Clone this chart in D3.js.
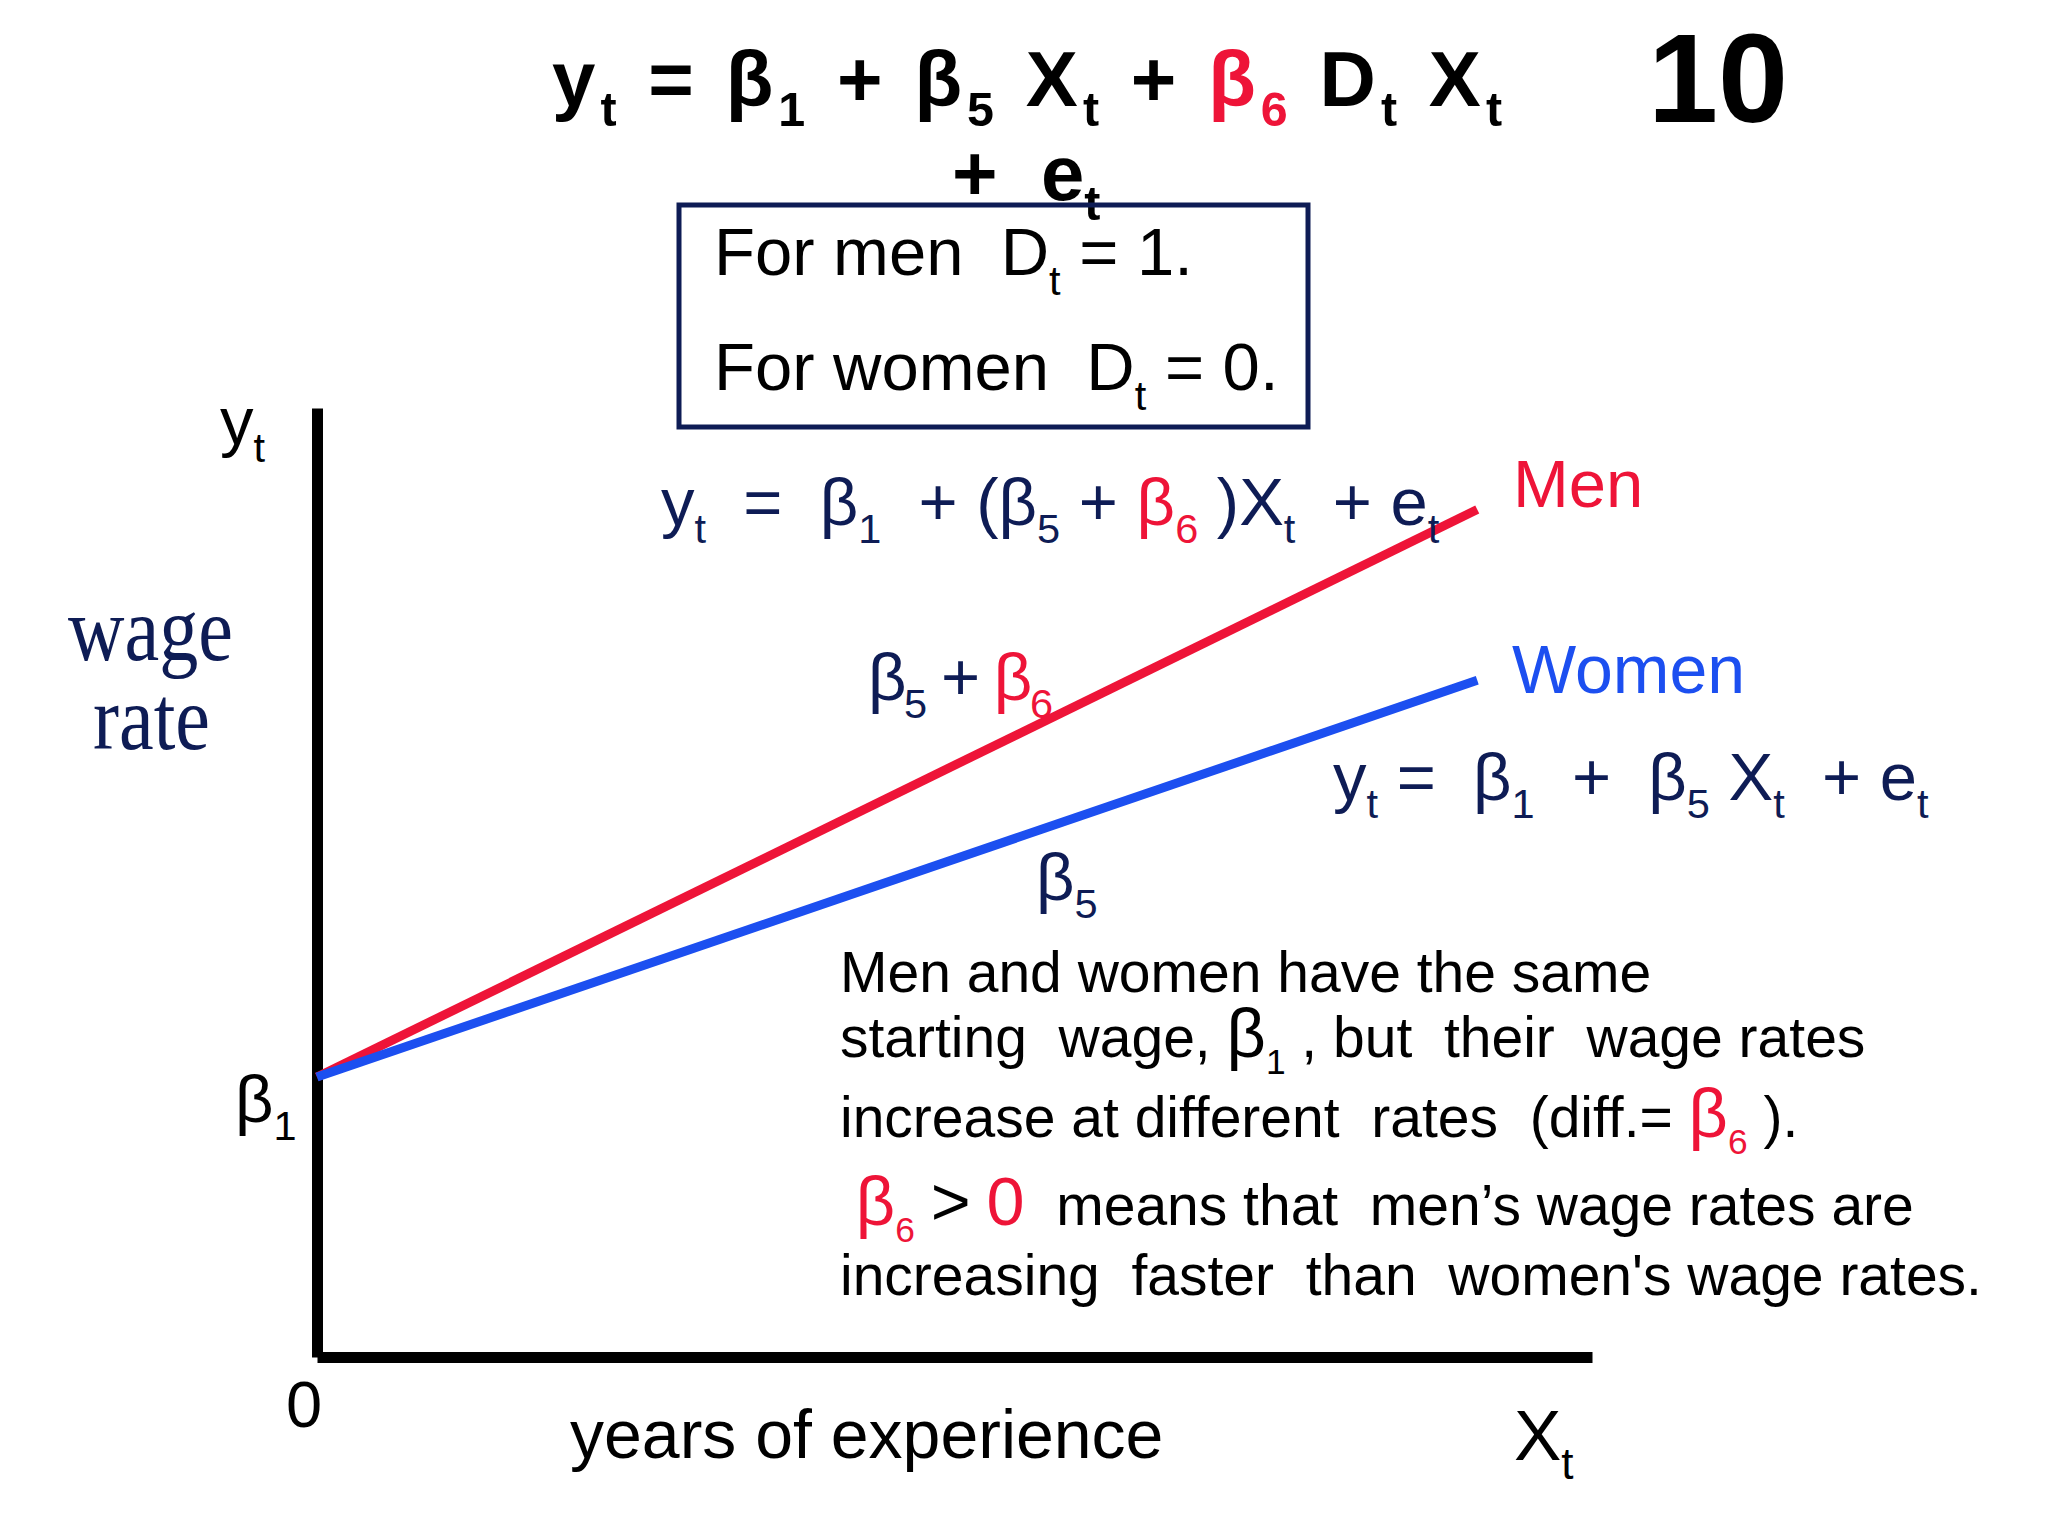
<!DOCTYPE html>
<html>
<head>
<meta charset="utf-8">
<script src="https://cdn.jsdelivr.net/npm/d3@7"></script>
<style>
  html, body { margin: 0; padding: 0; background: #ffffff; }
  svg text { font-family: "Liberation Sans", Arial, sans-serif; white-space: pre; }
</style>
</head>
<body>
<svg id="chart" width="2048" height="1536"></svg>
<script>
// ---------- data ----------
const xYears      = [0, 9.1];          // years of experience (end points of the lines)
const menWage     = [2.95, 8.93];      // wage rate, men
const womenWage   = [2.95, 7.13];      // wage rate, women
const seriesNames = ["Men", "Women"];
const xDomain     = [0, 10];
const yDomain     = [0, 10];
const xAxisLabel  = "years of experience";
const yAxisLabel  = ["wage", "rate"];
const originLabel = "0";
const interceptLabel = "β_1";
const titleEq     = "y_t = β_1 + β_5 X_t + {r}β_6{/} D_t X_t";
const titleEq2    = "+  e_t";
const slideNo     = "10";
const boxLines    = ["For men  D_t = 1.", "For women  D_t = 0."];
const menEq       = "y_t  =  β_1  + (β_5 + {r}β_6{/} )X_t  + e_t";
const womenEq     = "y_t =  β_1  +  β_5 X_t  + e_t";
const menSlope    = "β_5 + {r}β_6{/}";
const womenSlope  = "β_5";
const noteLines   = [
  "Men and women have the same",
  "starting  wage, β_1 , but  their  wage rates",
  "increase at different  rates  (diff.= {r}β_6{/} ).",
  " {r}β_6{/} > {r}0{/}  means that  men’s wage rates are",
  "increasing  faster  than  women's wage rates."
];

// ---------- styles ----------
const NAVY = "#0e1c55", RED = "#ee1438", BLUE = "#1c4ff0", BLACK = "#000000";
const colorMap = { r: RED, b: BLUE, n: NAVY, k: BLACK };

const svg = d3.select("#chart");

const x = d3.scaleLinear().domain(xDomain).range([317, 1592]);
const y = d3.scaleLinear().domain(yDomain).range([1357, 408]);

// rich text helper: "_c" => subscript char, "{r}..{/}" => colour
function rich(parent, px, py, size, src, opts = {}) {
  const base = opts.color || BLACK;
  const subOff = size * (opts.subOff || 0.27);
  const big = opts.big || "";
  const bigScale = opts.bigScale || 1;
  const t = parent.append("text").attr("x", px).attr("y", py)
    .attr("font-size", size).attr("fill", base);
  if (opts.bold) t.attr("font-weight", "bold");
  if (opts.length) t.attr("textLength", opts.length).attr("lengthAdjust", "spacing");
  let color = base, shift = 0, i = 0;
  const runs = [];
  while (i < src.length) {
    const ch = src[i];
    if (ch === "{") {
      const j = src.indexOf("}", i);
      const code = src.slice(i + 1, j);
      color = code === "/" ? base : colorMap[code];
      i = j + 1; continue;
    }
    if (ch === "_") {
      runs.push({ t: src[i + 1], sub: true, c: color });
      i += 2; continue;
    }
    const last = runs[runs.length - 1];
    const isBig = big.includes(ch);
    if (last && !last.sub && last.c === color && !last.big && !isBig) last.t += ch;
    else runs.push({ t: ch, sub: false, c: color, big: isBig });
    i++;
  }
  runs.forEach(r => {
    const target = r.sub ? subOff : 0;
    const fs = r.sub ? size * 0.62 : (r.big ? size * bigScale : size);
    t.append("tspan").text(r.t).attr("font-size", fs)
      .attr("dy", target - shift).attr("fill", r.c);
    shift = target;
  });
  return t;
}

// ---------- title ----------
rich(svg, 552, 106, 78, titleEq, { bold: true, subOff: 0.25, length: 950 });
rich(svg, 952, 200, 78, titleEq2, { bold: true, subOff: 0.25 });
svg.append("text").attr("x", 1648).attr("y", 122).attr("font-size", 126)
  .attr("font-weight", "bold").text(slideNo);

// ---------- box ----------
svg.append("rect").attr("x", 679).attr("y", 205).attr("width", 629).attr("height", 222)
  .attr("fill", "none").attr("stroke", NAVY).attr("stroke-width", 5);
rich(svg, 714, 275, 67, boxLines[0], { subOff: 0.3 });
rich(svg, 714, 390, 67, boxLines[1], { subOff: 0.3 });

// ---------- axes ----------
const xAxis = d3.axisBottom(x).ticks(0).tickSizeOuter(0);
const yAxis = d3.axisLeft(y).ticks(0).tickSizeOuter(0);
svg.append("g").attr("transform", `translate(0,${y(0)})`).call(xAxis)
  .call(g => g.select(".domain").attr("stroke", BLACK).attr("stroke-width", 11));
svg.append("g").attr("transform", `translate(${x(0)},0)`).call(yAxis)
  .call(g => g.select(".domain").attr("stroke", BLACK).attr("stroke-width", 11));

// ---------- lines ----------
const line = d3.line().x(d => x(d[0])).y(d => y(d[1]));
const series = [
  { name: seriesNames[0], values: menWage, color: RED },
  { name: seriesNames[1], values: womenWage, color: BLUE }
];
svg.selectAll("path.series").data(series).join("path")
  .attr("class", "series")
  .attr("d", s => line(xYears.map((xv, i) => [xv, s.values[i]])))
  .attr("fill", "none").attr("stroke", s => s.color).attr("stroke-width", 9);

// series labels
svg.append("text").attr("x", 1513).attr("y", 507).attr("font-size", 67)
  .attr("fill", RED).text(seriesNames[0]);
svg.append("text").attr("x", 1512).attr("y", 693).attr("font-size", 68)
  .attr("fill", BLUE).text(seriesNames[1]);

// equations
rich(svg, 661, 525, 67, menEq, { color: NAVY });
rich(svg, 1333, 800, 67, womenEq, { color: NAVY });
rich(svg, 868, 700, 67, menSlope, { color: NAVY, length: 185 });
rich(svg, 1036, 900, 67, womenSlope, { color: NAVY });

// axis labels
rich(svg, 220, 444, 67, "y_t");
rich(svg, 235, 1122, 67, interceptLabel);
svg.append("text").attr("x", 286).attr("y", 1427).attr("font-size", 65).text(originLabel);
svg.append("text").attr("x", 570).attr("y", 1458).attr("font-size", 68).text(xAxisLabel);
rich(svg, 1514, 1460, 71, "X_t");

svg.append("text").attr("x", 68).attr("y", 660).attr("font-size", 92)
  .attr("textLength", 165).attr("lengthAdjust", "spacingAndGlyphs")
  .style("font-family", "'Liberation Serif', 'Times New Roman', serif")
  .attr("fill", NAVY).text(yAxisLabel[0]);
svg.append("text").attr("x", 93).attr("y", 749).attr("font-size", 92)
  .attr("textLength", 117).attr("lengthAdjust", "spacingAndGlyphs")
  .style("font-family", "'Liberation Serif', 'Times New Roman', serif")
  .attr("fill", NAVY).text(yAxisLabel[1]);

// explanatory note
const noteY = [992, 1057, 1137, 1225, 1295];
noteLines.forEach((ln, i) => {
  rich(svg, 840, noteY[i], 57, ln, { big: i === 3 ? "β>0" : "β", bigScale: 1.2, subOff: 0.3 });
});
</script>
</body>
</html>
